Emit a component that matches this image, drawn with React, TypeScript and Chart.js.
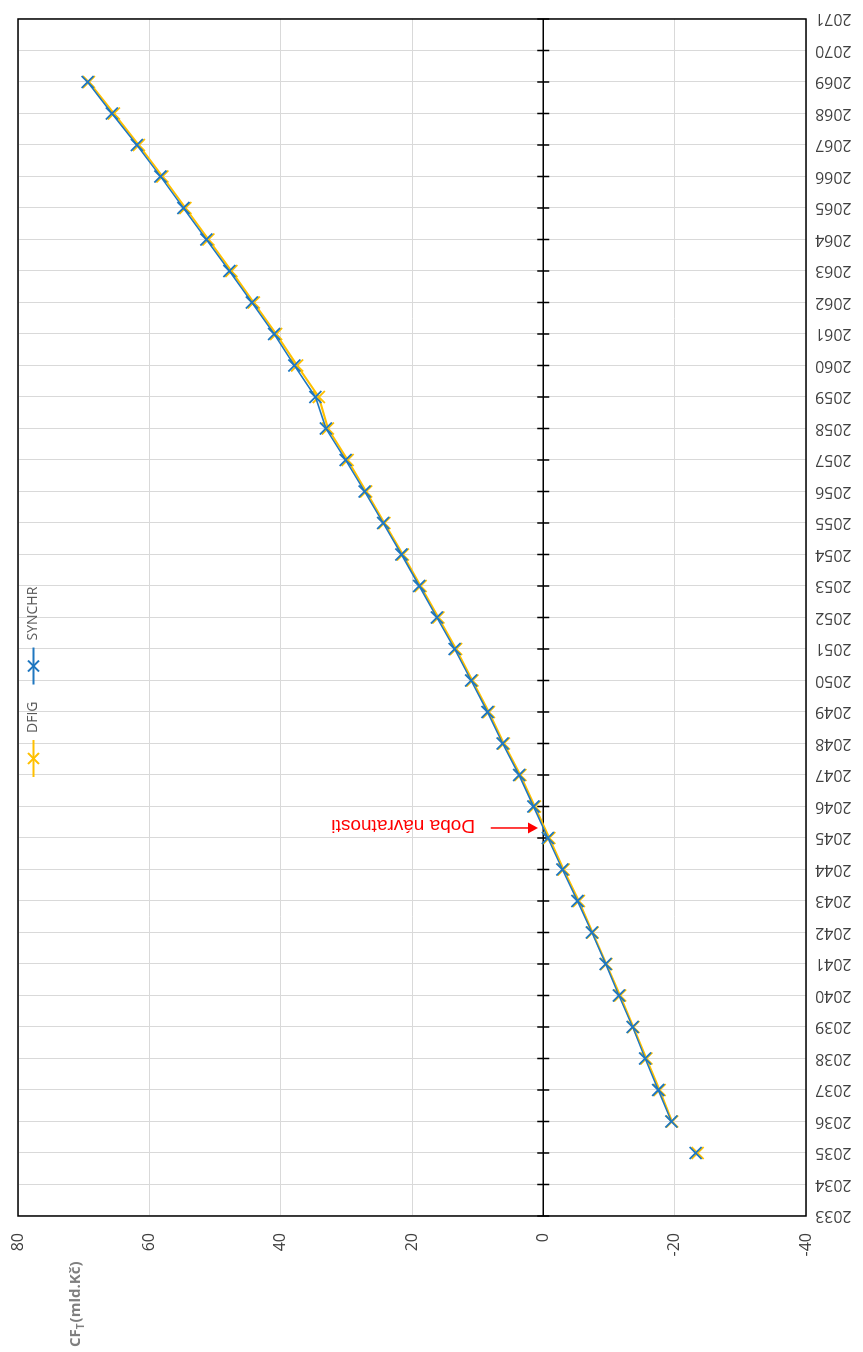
import React, { useEffect, useRef } from "react";
import { Chart, registerables } from "chart.js";

Chart.register(...registerables);

// ---- data ----
const YEARS = [
  "2033", "2034", "2035", "2036", "2037", "2038", "2039", "2040", "2041", "2042",
  "2043", "2044", "2045", "2046", "2047", "2048", "2049", "2050", "2051", "2052",
  "2053", "2054", "2055", "2056", "2057", "2058", "2059", "2060", "2061", "2062",
  "2063", "2064", "2065", "2066", "2067", "2068", "2069", "2070", "2071",
];

const DFIG = [
  null, null, -23.5, -19.6, -17.7, -15.7, -13.7, -11.7, -9.6, -7.5,
  -5.4, -3.1, -0.9, 1.3, 3.5, 6.0, 8.3, 10.8, 13.3, 16.0,
  18.7, 21.4, 24.2, 27.0, 29.8, 32.8, 34.2, 37.5, 40.7, 44.1,
  47.5, 51.0, 54.5, 58.0, 61.6, 65.4, 69.2, null, null,
];

const SYNCHR = [
  null, null, -23.2, -19.5, -17.5, -15.5, -13.6, -11.5, -9.5, -7.4,
  -5.2, -2.9, -0.7, 1.5, 3.7, 6.2, 8.5, 11.0, 13.5, 16.2,
  18.9, 21.6, 24.4, 27.2, 30.1, 33.1, 34.7, 37.9, 41.0, 44.4,
  47.8, 51.3, 54.8, 58.3, 61.9, 65.7, 69.4, null, null,
];

// the first point (2035) stands alone: no connecting segment to 2036
const UNLINKED_YEAR = "2035";

const SERIES_NAMES = ["DFIG", "SYNCHR"];
const SERIES_COLORS = ["#ffc000", "#1f77c0"];
const Y_MIN = -40;
const Y_MAX = 80;
const Y_STEP = 20;

const AXIS_TITLE_MAIN = "CF";
const AXIS_TITLE_SUB = "T";
const AXIS_TITLE_REST = "(mld.Kč)";

const ANNOTATION_TEXT = "Doba návratnosti";
const ARROW_FROM_VALUE = 8.0;
const ARROW_TO_VALUE = 0.8;
const TEXT_START_VALUE = 10.4;

const FONT = "'Open Sans', 'DejaVu Sans', sans-serif";

function drawX(ctx: CanvasRenderingContext2D, x: number, y: number, h: number) {
  ctx.beginPath();
  ctx.moveTo(x - h, y - h);
  ctx.lineTo(x + h, y + h);
  ctx.moveTo(x - h, y + h);
  ctx.lineTo(x + h, y - h);
  ctx.stroke();
}

const decorPlugin = {
  id: "decor",
  beforeDatasetsDraw(chart: any) {
    const { ctx, chartArea: a, scales } = chart;
    const x = scales.x;
    const y = scales.y;
    ctx.save();
    ctx.strokeStyle = "#000";
    ctx.lineWidth = 1.5;
    // plot border
    ctx.strokeRect(a.left, a.top, a.right - a.left, a.bottom - a.top);
    // zero axis line with crossing ticks
    const y0 = y.getPixelForValue(0);
    ctx.beginPath();
    ctx.moveTo(a.left, y0);
    ctx.lineTo(a.right, y0);
    for (let i = 0; i < YEARS.length; i++) {
      const px = x.getPixelForValue(i);
      ctx.moveTo(px, y0 - 6);
      ctx.lineTo(px, y0 + 6);
    }
    ctx.stroke();
    ctx.restore();
  },
  afterDatasetsDraw(chart: any) {
    const { ctx, chartArea: a, scales } = chart;
    const x = scales.x;
    const y = scales.y;
    ctx.save();

    // ---- legend (inside plot, top) ----
    const ly = a.top + 15.5;
    let lx = chart.width / 2 - 101;
    ctx.font = `14px ${FONT}`;
    ctx.textBaseline = "middle";
    ctx.textAlign = "left";
    SERIES_NAMES.forEach((name, i) => {
      ctx.strokeStyle = SERIES_COLORS[i];
      ctx.lineWidth = 1.8;
      ctx.beginPath();
      ctx.moveTo(lx, ly);
      ctx.lineTo(lx + 37, ly);
      ctx.stroke();
      drawX(ctx, lx + 18.5, ly, 5.5);
      ctx.fillStyle = "#595959";
      ctx.fillText(name, lx + 44, ly);
      lx += 44 + ctx.measureText(name).width + 17;
    });

    // ---- axis title CF_T(mld.Kč) ----
    const tx = 5;
    const ty = a.top + 58;
    ctx.fillStyle = "#7f7f7f";
    ctx.textBaseline = "middle";
    ctx.font = `bold 15px ${FONT}`;
    ctx.fillText(AXIS_TITLE_MAIN, tx, ty);
    let cx = tx + ctx.measureText(AXIS_TITLE_MAIN).width;
    ctx.font = `bold 10px ${FONT}`;
    ctx.fillText(AXIS_TITLE_SUB, cx, ty + 5);
    cx += ctx.measureText(AXIS_TITLE_SUB).width + 1;
    ctx.font = `bold 15px ${FONT}`;
    ctx.fillText(AXIS_TITLE_REST, cx, ty);

    // ---- payback annotation ----
    let k = -1;
    for (let i = 1; i < SYNCHR.length; i++) {
      const p = SYNCHR[i - 1];
      const c = SYNCHR[i];
      if (p !== null && c !== null && p < 0 && c >= 0) { k = i; break; }
    }
    if (k > 0) {
      const v0 = SYNCHR[k - 1] as number;
      const v1 = SYNCHR[k] as number;
      const frac = -v0 / (v1 - v0);
      const ax = x.getPixelForValue(k - 1) + frac * (x.getPixelForValue(k) - x.getPixelForValue(k - 1));
      const yFrom = y.getPixelForValue(ARROW_FROM_VALUE);
      const yTo = y.getPixelForValue(ARROW_TO_VALUE);
      ctx.strokeStyle = "#ff0000";
      ctx.fillStyle = "#ff0000";
      ctx.lineWidth = 1.5;
      ctx.beginPath();
      ctx.moveTo(ax, yFrom);
      ctx.lineTo(ax, yTo - 9);
      ctx.stroke();
      ctx.beginPath();
      ctx.moveTo(ax, yTo);
      ctx.lineTo(ax - 5.5, yTo - 10);
      ctx.lineTo(ax + 5.5, yTo - 10);
      ctx.closePath();
      ctx.fill();
      // vertical text
      ctx.save();
      ctx.translate(ax + 2.5, y.getPixelForValue(TEXT_START_VALUE));
      ctx.rotate(-Math.PI / 2);
      ctx.font = "19px 'Liberation Sans', Arial, sans-serif";
      ctx.textAlign = "left";
      ctx.textBaseline = "middle";
      ctx.fillText(ANNOTATION_TEXT, 0, 0);
      ctx.restore();
    }
    ctx.restore();
  },
};

function zeroPadding(s: any) {
  s.paddingTop = 0;
  s.paddingBottom = 0;
  s.paddingLeft = 0;
  s.paddingRight = 0;
}

const unlinkedIndex = YEARS.indexOf(UNLINKED_YEAR);
const segmentStyle = {
  borderColor: (c: any) => (c.p0DataIndex === unlinkedIndex ? "rgba(0,0,0,0)" : undefined),
};

export default function App() {
  const canvasRef = useRef<HTMLCanvasElement | null>(null);

  useEffect(() => {
    if (!canvasRef.current) return;
    const chart = new Chart(canvasRef.current, {
      type: "line",
      data: {
        labels: YEARS,
        datasets: [
          {
            label: SERIES_NAMES[0],
            data: DFIG,
            borderColor: SERIES_COLORS[0],
            backgroundColor: SERIES_COLORS[0],
            borderWidth: 2,
            pointStyle: "crossRot",
            pointRadius: 8.5,
            pointBorderWidth: 1.8,
            pointBorderColor: SERIES_COLORS[0],
            pointBackgroundColor: SERIES_COLORS[0],
            tension: 0,
            order: 2,
            segment: segmentStyle,
          },
          {
            label: SERIES_NAMES[1],
            data: SYNCHR,
            borderColor: SERIES_COLORS[1],
            backgroundColor: SERIES_COLORS[1],
            borderWidth: 1.5,
            pointStyle: "crossRot",
            pointRadius: 8.5,
            pointBorderWidth: 1.8,
            pointBorderColor: SERIES_COLORS[1],
            pointBackgroundColor: SERIES_COLORS[1],
            tension: 0,
            order: 1,
            segment: segmentStyle,
          },
        ],
      },
      options: {
        responsive: false,
        maintainAspectRatio: false,
        animation: false,
        events: [],
        layout: { padding: { top: 18, right: 19, left: 0, bottom: 0 } },
        plugins: {
          legend: { display: false },
          tooltip: { enabled: false },
          title: { display: false },
        },
        scales: {
          x: {
            type: "category",
            offset: false,
            grid: { color: "#d9d9d9", lineWidth: 1, drawTicks: false },
            border: { display: false },
            ticks: {
              autoSkip: false,
              maxRotation: 90,
              minRotation: 90,
              padding: 9,
              color: "#404040",
              font: { family: FONT, size: 16 },
            },
            afterFit: (s: any) => { s.height = 57; zeroPadding(s); },
          },
          y: {
            min: Y_MIN,
            max: Y_MAX,
            grid: { color: "#d9d9d9", lineWidth: 1, drawTicks: false },
            border: { display: false },
            ticks: {
              stepSize: Y_STEP,
              padding: 17,
              color: "#404040",
              font: { family: FONT, size: 16 },
            },
            afterFit: (s: any) => { s.width = 136; zeroPadding(s); },
          },
        },
      } as any,
      plugins: [decorPlugin],
    });
    return () => chart.destroy();
  }, []);

  return (
    <div
      style={{
        position: "fixed",
        left: 0,
        top: 0,
        width: 863,
        height: 1352,
        overflow: "hidden",
        background: "#fff",
      }}
    >
      <div
        style={{
          position: "absolute",
          left: 0,
          top: 0,
          width: 1352,
          height: 863,
          transformOrigin: "0 0",
          transform: "translateY(1352px) rotate(-90deg)",
        }}
      >
        <canvas ref={canvasRef} width={1352} height={863} style={{ display: "block" }} />
      </div>
    </div>
  );
}
